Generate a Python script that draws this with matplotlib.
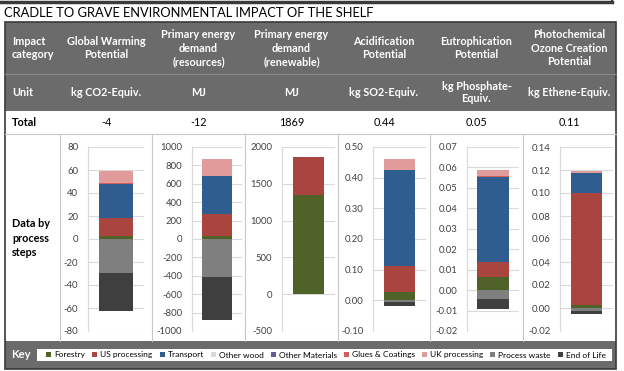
import numpy as np
import matplotlib.pyplot as plt
from matplotlib.patches import Rectangle, Patch
from matplotlib.ticker import FormatStrFormatter, MultipleLocator

plt.rcParams['font.family'] = ['Lato', 'DejaVu Sans']

# Table content
title = "CRADLE TO GRAVE ENVIRONMENTAL IMPACT OF THE SHELF"
categories = ["Global Warming\nPotential", "Primary energy\ndemand\n(resources)",
              "Primary energy\ndemand\n(renewable)", "Acidification\nPotential",
              "Eutrophication\nPotential", "Photochemical\nOzone Creation\nPotential"]
units = ["kg CO2-Equiv.", "MJ", "MJ", "kg SO2-Equiv.", "kg Phosphate-\nEquiv.", "kg Ethene-Equiv."]
totals = ["-4", "-12", "1869", "0.44", "0.05", "0.11"]

# Process steps (one value per impact category)
steps = ["Forestry", "US processing", "Transport", "Other wood", "Other Materials",
         "Glues & Coatings", "UK processing", "Process waste", "End of Life"]
forestry = [2.5, 34, 1352, 0.028, 0.0063, 0.003]
us_processing = [15.9, 239, 517, 0.084, 0.0076, 0.097]
transport = [29.8, 413, 0, 0.312, 0.0415, 0.0175]
other_wood = [0, 0, 0, 0, 0, 0]
other_materials = [0, 0, 0, 0, 0, 0]
glues_coatings = [0.3, 2, 0, 0.001, 0.0003, 0.0002]
uk_processing = [10.4, 177, 0, 0.036, 0.003, 0.0013]
process_waste = [-29.9, -414, 0, -0.007, -0.0044, -0.003]
end_of_life = [-33.0, -463, 0, -0.011, -0.0049, -0.0025]
step_values = [forestry, us_processing, transport, other_wood, other_materials,
               glues_coatings, uk_processing, process_waste, end_of_life]
step_colors = ['#4f6228', '#a9443f', '#2f5d8f', '#d9d9d9', '#5f5f8f',
               '#cf5f5f', '#e09b9a', '#7f7f7f', '#3f3f3f']

# Axis settings per chart
y_limits = [(-80, 80), (-1000, 1000), (-500, 2000), (-0.10, 0.50), (-0.02, 0.07), (-0.02, 0.14)]
y_steps = [20, 200, 500, 0.10, 0.01, 0.02]
y_formats = ['%d', '%d', '%d', '%.2f', '%.2f', '%.2f']

# Layout in pixels
W, H = 624, 371
col_edges = [60, 152, 245, 338, 430, 523, 616]
plot_x = [(88, 144), (192, 242), (282, 335), (373, 426), (467, 519), (560, 613)]
plot_top, plot_bot = 147, 331
header_gray = '#6b6b6b'
line_gray = '#c8c8c8'
fs = 7.8

fig = plt.figure(figsize=(W / 100, H / 100), dpi=100)
bg = fig.add_axes([0, 0, 1, 1])
bg.set_xlim(0, W)
bg.set_ylim(H, 0)
bg.axis('off')

# top box edge
bg.plot([0, 612], [1.5, 1.5], color='#3a3a3a', lw=2.5)
bg.plot([612, 612], [0, 2.5], color='#3a3a3a', lw=1.5)

bg.text(4, 13, title, fontsize=9.3, va='center', ha='left', color='black')

# row backgrounds
bg.add_patch(Rectangle((5, 22), 611, 52, facecolor=header_gray, edgecolor='none'))
bg.add_patch(Rectangle((5, 74), 611, 37, facecolor=header_gray, edgecolor='none'))
bg.plot([5, 616], [74, 74], color='#8a8a8a', lw=0.8)
bg.add_patch(Rectangle((5, 341), 611, 28, facecolor=header_gray, edgecolor='none'))
bg.add_patch(Rectangle((37, 349), 575, 12, facecolor='white', edgecolor='none'))
bg.plot([5, 616], [134, 134], color=line_gray, lw=0.8)
for x in col_edges[:-1]:
    bg.plot([x, x], [134, 341], color=line_gray, lw=0.8)
bg.add_patch(Rectangle((5, 22), 611, 347, facecolor='none', edgecolor='#3a3a3a', lw=1.2))

# row labels
bg.text(12, 48, "Impact\ncategory", fontsize=fs, weight='bold', color='white',
        va='center', ha='left', linespacing=1.3)
bg.text(12, 92.5, "Unit", fontsize=fs, weight='bold', color='white', va='center', ha='left')
bg.text(12, 122.5, "Total", fontsize=fs, weight='bold', color='black', va='center', ha='left')
bg.text(12, 238, "Data by\nprocess\nsteps", fontsize=fs, weight='bold', color='black',
        va='center', ha='left', linespacing=1.4)
bg.text(11, 355, "Key", fontsize=8, weight='bold', color='white', va='center', ha='left')

for i in range(6):
    cx = (col_edges[i] + col_edges[i + 1]) / 2
    bg.text(cx, 48, categories[i], fontsize=fs, weight='bold', color='white',
            va='center', ha='center', linespacing=1.3)
    bg.text(cx, 92.5, units[i], fontsize=fs, weight='bold', color='white',
            va='center', ha='center', linespacing=1.2)
    bg.text(cx, 122.5, totals[i], fontsize=fs, color='black', va='center', ha='center')

# stacked bar charts
for i in range(6):
    x0, x1 = plot_x[i]
    ax = fig.add_axes([x0 / W, 1 - plot_bot / H, (x1 - x0) / W, (plot_bot - plot_top) / H])
    ax.set_facecolor('none')
    pos_bottom, neg_bottom = 0.0, 0.0
    for vals, color in zip(step_values, step_colors):
        v = vals[i]
        if v == 0:
            continue
        if v > 0:
            ax.bar(0, v, 0.6, bottom=pos_bottom, color=color, zorder=3)
            pos_bottom += v
        else:
            ax.bar(0, v, 0.6, bottom=neg_bottom, color=color, zorder=3)
            neg_bottom += v
    ax.set_xlim(-0.5, 0.5)
    ax.set_ylim(*y_limits[i])
    ax.yaxis.set_major_locator(MultipleLocator(y_steps[i]))
    ax.yaxis.set_major_formatter(FormatStrFormatter(y_formats[i]))
    ax.grid(axis='y', color='#d9d9d9', lw=0.8, zorder=0)
    ax.set_xticks([])
    for s in ['top', 'right', 'bottom']:
        ax.spines[s].set_visible(False)
    ax.spines['left'].set_color('#d9d9d9')
    ax.spines['left'].set_linewidth(0.8)
    ax.tick_params(axis='y', length=0, pad=7, labelsize=6.8, labelcolor='#404040')

# key
handles = [Patch(facecolor=c, edgecolor='none') for c in step_colors]
fig.legend(handles, steps, loc='center', bbox_to_anchor=(326 / W, 1 - 355 / H), ncol=9,
           frameon=False, fontsize=6.0, handlelength=0.6, handleheight=0.6,
           handletextpad=0.35, columnspacing=0.85, borderpad=0)

fig.savefig('out.png', dpi=100)
